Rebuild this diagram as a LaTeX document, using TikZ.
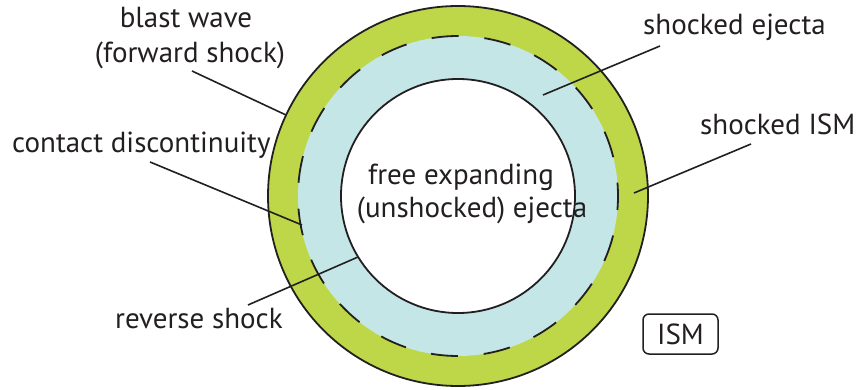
\documentclass[tikz,border=0pt]{standalone}
\usepackage{fontspec}
\setmainfont{PT Sans}
\definecolor{shellgreen}{RGB}{189,215,72}
\definecolor{ejblue}{RGB}{196,230,231}
\definecolor{ink}{RGB}{35,31,32}
\begin{document}
\begin{tikzpicture}[x=1pt,y=-1pt,
  lbl/.style={inner sep=0pt, text=ink, font=\fontsize{29}{34}\selectfont, align=center},
  leader/.style={draw=ink, line width=1.6pt},
  ring/.style={draw=ink, line width=1.8pt}]
\useasboundingbox (0,0) rectangle (859,390);
\coordinate (c) at (458,196);
% shells
\fill[shellgreen] (c) circle[radius=190];
\fill[ejblue] (c) circle[radius=160];
\fill[white] (c) circle[radius=117];
\draw[ring] (c) circle[radius=190];
\draw[ring, dash pattern=on 27pt off 25.9pt, dash phase=13pt] (c) circle[radius=160];
\draw[ring] (c) circle[radius=117];
% labels
\node[lbl, anchor=base] (bw) at (186,28) {blast wave};
\node[lbl, anchor=base] (fs) at (190,63) {(forward shock)};
\node[lbl, anchor=base west] (cd) at (12,153) {contact discontinuity};
\node[lbl, anchor=base west] (rs) at (115,328) {reverse shock};
\node[lbl, anchor=base west] (se) at (643,35) {shocked ejecta};
\node[lbl, anchor=base west] (si) at (700,135) {shocked ISM};
\node[lbl, anchor=base] (fe) at (461,185) {free expanding};
\node[lbl, anchor=base] (ue) at (472,218) {(unshocked) ejecta};
\node[lbl, draw=ink, line width=1.5pt, rounded corners=6pt, minimum width=75pt, minimum height=40pt] (ism) at (680.5,334) {ISM};
% leader end points
\coordinate (bwA) at (192,71);   \coordinate (bwB) at (286,115);
\coordinate (cdA) at (150,162);  \coordinate (cdB) at (302,225);
\coordinate (rsA) at (248,305);  \coordinate (rsB) at (358,257);
\coordinate (seA) at (660,46);   \coordinate (seB) at (543,95);
\coordinate (siA) at (751,144);  \coordinate (siB) at (634,193);
\draw[leader] (bwA) -- (bwB);
\draw[leader] (cdA) -- (cdB);
\draw[leader] (rsA) -- (rsB);
\draw[leader] (seA) -- (seB);
\draw[leader] (siA) -- (siB);
\end{tikzpicture}
\end{document}
